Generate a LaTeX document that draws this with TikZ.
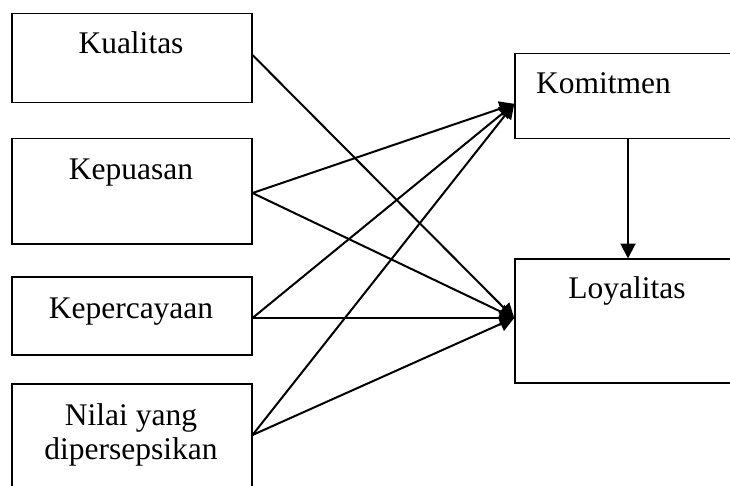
\documentclass[tikz,border=0pt]{standalone}
\usepackage{fontspec}
\setmainfont{Liberation Serif}
\usetikzlibrary{arrows.meta,calc}
\tikzset{
  box/.style={draw, line width=1.5pt, rectangle, inner sep=0pt, anchor=north west},
  lbl/.style={anchor=base, inner sep=0pt, font=\fontsize{31.5}{34}\selectfont, align=center},
  conn/.style={line width=2pt, -{Triangle[length=15pt,width=15pt]}, shorten >=-0.5pt}
}
\begin{document}
\begin{tikzpicture}[x=1pt,y=-1pt]
\useasboundingbox (0,0) rectangle (730,486);
\fill[white] (0,0) rectangle (730,486);
\clip (0,0) rectangle (730,486);
% boxes
\node[box, minimum width=240pt, minimum height=89pt] (kual) at (11,13) {};
\node[box, minimum width=240pt, minimum height=105pt] (kepu) at (11,138) {};
\node[box, minimum width=240pt, minimum height=78pt] (kepe) at (11,276) {};
\node[box, minimum width=240pt, minimum height=104pt] (nil) at (11,383) {};
\node[box, minimum width=260pt, minimum height=85pt] (kom) at (514,53) {};
\node[box, minimum width=260pt, minimum height=124pt] (loy) at (514,258) {};
% labels
\node[lbl] (tkual) at (131,54) {Kualitas};
\node[lbl] (tkepu) at (131,180) {Kepuasan};
\node[lbl] (tkepe) at (131,318) {Kepercayaan};
\node[lbl] (tnil) at (131,425) {Nilai yang};
\node[lbl] (tnil2) at (131,459) {dipersepsikan};
\node[lbl, anchor=base west] (tkom) at (536,94) {Komitmen};
\node[lbl] (tloy) at (627,298) {Loyalitas};
% connector end points
\coordinate (komIn) at ($(kom.north west)+(0,51)$);
\coordinate (loyIn) at ($(loy.north west)+(0,60)$);
\coordinate (kualOut) at ($(kual.north east)+(0,42)$);
\coordinate (kepuOut) at ($(kepu.north east)+(0,55)$);
\coordinate (kepeOut) at ($(kepe.north east)+(0,42)$);
\coordinate (nilOut) at ($(nil.north east)+(0,52)$);
\coordinate (komDown) at ($(kom.south west)+(114,0)$);
\coordinate (loyTop) at ($(loy.north west)+(114,0)$);
% connectors
\draw[conn] (kualOut) -- (loyIn);
\draw[conn] (kepuOut) -- (komIn);
\draw[conn] (kepuOut) -- (loyIn);
\draw[conn] (kepeOut) -- (komIn);
\draw[conn] (kepeOut) -- (loyIn);
\draw[conn] (nilOut) -- (komIn);
\draw[conn] (nilOut) -- (loyIn);
\draw[conn] (komDown) -- (loyTop);
\end{tikzpicture}
\end{document}
